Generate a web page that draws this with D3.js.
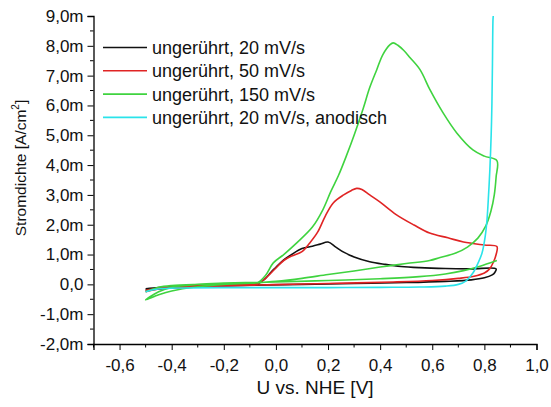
<!DOCTYPE html>
<html><head><meta charset="utf-8">
<script src="https://cdn.jsdelivr.net/npm/d3@7/dist/d3.min.js"></script>
<style>body{margin:0;background:#fff}svg{display:block}text{font-family:"Liberation Sans",Arial,sans-serif}</style>
</head><body>
<svg id="c" width="551" height="407"></svg>
<script>
// series names
const seriesNames = ["ungerührt, 20 mV/s","ungerührt, 50 mV/s","ungerührt, 150 mV/s","ungerührt, 20 mV/s, anodisch"];
const seriesColors = ["#111111","#e02424","#3fd33f","#2ae3ea"];
// [U (V), j (mA/cm2)]
const black = [[-0.5,-0.15],[-0.45,-0.11],[-0.4,-0.08],[-0.3,-0.04],[-0.2,-0.01],[-0.1,0.0],[-0.07,0.02],[-0.04,0.2],[-0.02,0.4],[0.0,0.57],[0.03,0.82],[0.06,1.0],[0.1,1.2],[0.14,1.28],[0.17,1.35],[0.2,1.42],[0.23,1.25],[0.26,1.08],[0.3,0.92],[0.36,0.76],[0.42,0.67],[0.48,0.6],[0.55,0.56],[0.65,0.53],[0.75,0.52],[0.845,0.52],
  [0.84,0.4],[0.83,0.32],[0.8,0.22],[0.75,0.15],[0.65,0.1],[0.5,0.06],[0.3,0.03],[0.1,0.0],[-0.1,-0.03],[-0.3,-0.08],[-0.4,-0.12],[-0.5,-0.2]];
const red = [[-0.5,-0.2],[-0.45,-0.12],[-0.4,-0.08],[-0.3,-0.04],[-0.2,-0.01],[-0.1,0.01],[-0.07,0.03],[-0.04,0.2],[0.0,0.55],[0.03,0.8],[0.06,0.95],[0.1,1.1],[0.13,1.39],[0.16,1.75],[0.19,2.3],[0.22,2.73],[0.26,3.0],[0.29,3.15],[0.31,3.22],[0.33,3.18],[0.36,3.0],[0.4,2.76],[0.46,2.35],[0.53,1.99],[0.59,1.72],[0.66,1.56],[0.72,1.42],[0.8,1.32],[0.848,1.27],
  [0.845,1.0],[0.835,0.75],[0.82,0.52],[0.8,0.38],[0.76,0.27],[0.7,0.2],[0.6,0.13],[0.45,0.08],[0.2,0.03],[0.0,-0.01],[-0.2,-0.05],[-0.35,-0.1],[-0.45,-0.15],[-0.5,-0.25]];
const green = [[-0.5,-0.25],[-0.45,-0.1],[-0.4,-0.04],[-0.3,0.0],[-0.2,0.02],[-0.1,0.04],[-0.07,0.06],[-0.04,0.3],[-0.01,0.72],[0.03,1.0],[0.08,1.39],[0.14,1.92],[0.18,2.5],[0.21,3.1],[0.24,3.65],[0.27,4.3],[0.3,5.0],[0.335,5.9],[0.36,6.6],[0.387,7.2],[0.41,7.7],[0.438,8.04],[0.45,8.1],[0.468,8.02],[0.49,7.85],[0.515,7.6],[0.553,7.2],[0.591,6.53],[0.641,5.76],[0.694,5.08],[0.756,4.51],[0.8,4.3],[0.848,4.15],
  [0.845,3.6],[0.838,3.0],[0.825,2.45],[0.805,1.95],[0.775,1.55],[0.735,1.25],[0.69,1.05],[0.63,0.9],[0.59,0.8],[0.5,0.7],[0.4,0.58],[0.3,0.45],[0.2,0.33],[0.1,0.2],[0.0,0.1],[-0.1,0.04],[-0.2,0.0],[-0.3,-0.08],[-0.4,-0.22],[-0.45,-0.35],[-0.5,-0.52],
  [-0.45,-0.25],[-0.4,-0.1],[-0.3,0.0],[-0.2,0.04],[0.0,0.08],[0.2,0.13],[0.4,0.19],[0.55,0.26],[0.65,0.35],[0.72,0.46],[0.78,0.6],[0.848,0.8]];
const cyan = [[-0.5,-0.25],[-0.47,-0.18],[-0.43,-0.14],[-0.35,-0.12],[-0.2,-0.11],[0.0,-0.11],[0.2,-0.11],[0.4,-0.1],[0.55,-0.09],[0.65,-0.06],[0.7,0.0],[0.73,0.12],[0.756,0.38],[0.775,0.7],[0.791,1.05],[0.803,1.6],[0.81,2.16],[0.816,3.0],[0.821,3.84],[0.826,5.0],[0.829,6.09],[0.831,7.4],[0.833,8.87],[0.834,9.0]];
const seriesData = [black, red, green, cyan];
const xTicks = [-0.6,-0.4,-0.2,0.0,0.2,0.4,0.6,0.8,1.0];
const yTicks = [-2,-1,0,1,2,3,4,5,6,7,8,9];

const svg = d3.select("#c");
const x = d3.scaleLinear().domain([-0.7,1.0]).range([93.5,536.5]);
const y = d3.scaleLinear().domain([-2,9]).range([344,16]);
const fmt = d => d3.format(".1f")(d).replace(".",",").replace("−","-");

// lines
const line = d3.line().x(d=>x(d[0])).y(d=>y(d[1])).curve(d3.curveCatmullRom.alpha(0.5));
seriesData.forEach((s,i)=>{
  svg.append("path").attr("d",line(s)).attr("fill","none")
    .attr("stroke",seriesColors[i]).attr("stroke-width",1.6).attr("stroke-linejoin","round");
});

// axes
const xAxis = d3.axisBottom(x).tickValues(xTicks).tickSize(6).tickFormat(fmt);
const gx = svg.append("g").attr("transform","translate(0,344)").call(xAxis);
gx.selectAll(".tick text").attr("dy","1.05em").style("font-size","17px");
const xMinor = d3.range(-0.7,1.0001,0.1).filter(v=>!xTicks.some(t=>Math.abs(t-v)<1e-6));
gx.selectAll(".mnr").data(xMinor).enter().append("line").attr("x1",d=>x(d)).attr("x2",d=>x(d)).attr("y1",0).attr("y2",3.5).attr("stroke","#000");

const yAxis = d3.axisLeft(y).tickValues(yTicks).tickSize(6).tickFormat(d=> d===0 ? "0,0" : fmt(d)+"m");
const gy = svg.append("g").attr("transform","translate(93.5,0)").call(yAxis);
gy.selectAll(".tick text").attr("x",-10).style("font-size","17px");
const yMinor = d3.range(-1.5,9,1);
gy.selectAll(".mnr").data(yMinor).enter().append("line").attr("x1",0).attr("x2",-3.5).attr("y1",d=>y(d)).attr("y2",d=>y(d)).attr("stroke","#000");
[gx,gy].forEach(g=>{g.select(".domain").attr("stroke","#000").attr("stroke-width",1.3);g.selectAll("text").attr("fill","#111").style("font-family","'Liberation Sans',Arial,sans-serif");});

// axis titles
svg.append("text").attr("x",315).attr("y",394).attr("text-anchor","middle").style("font-size","19px").attr("fill","#111").text("U vs. NHE [V]");
const yt = svg.append("text").attr("transform","translate(26,168) rotate(-90)").attr("text-anchor","middle").style("font-size","15.5px").attr("fill","#111");
yt.append("tspan").text("Stromdichte [A/cm");
yt.append("tspan").attr("dy",-7).style("font-size","10px").text("2");
yt.append("tspan").attr("dy",7).text("]");

// legend
const lg = svg.append("g");
seriesNames.forEach((n,i)=>{
  const yy = 47.5 + i*23.3;
  lg.append("line").attr("x1",103).attr("x2",147).attr("y1",yy).attr("y2",yy).attr("stroke",seriesColors[i]).attr("stroke-width",1.6);
  lg.append("text").attr("x",152).attr("y",yy+6.5).style("font-size","18px").attr("fill","#111").text(n);
});
</script>
</body></html>
